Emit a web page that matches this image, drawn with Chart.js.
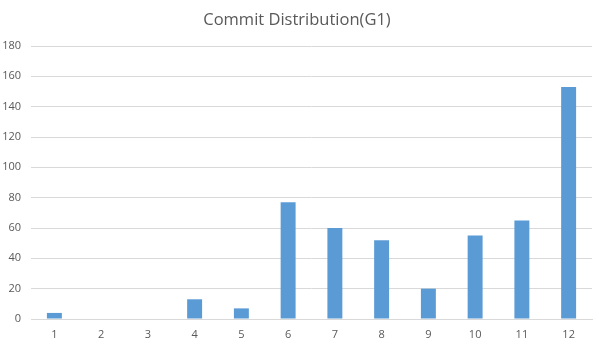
<!DOCTYPE html>
<html>
<head>
<meta charset="utf-8">
<script src="https://cdn.jsdelivr.net/npm/chart.js@4/dist/chart.umd.min.js"></script>
<style>
html,body{margin:0;padding:0;background:#fff;}
#wrap{width:599px;height:351px;position:relative;}
</style>
</head>
<body>
<div id="wrap"><canvas id="c" width="599" height="351"></canvas></div>
<script>
const categories = ["1","2","3","4","5","6","7","8","9","10","11","12"];
const commits = [4, 0, 0, 13, 7, 77, 60, 52, 20, 55, 65, 153];
const yTicks = [0, 20, 40, 60, 80, 100, 120, 140, 160, 180];
const chartTitle = "Commit Distribution(G1)";

const textColor = "#595959";
const gridColor = "#d9d9d9";
const fontFamily = "'Open Sans', 'Liberation Sans', sans-serif";

new Chart(document.getElementById("c"), {
  type: "bar",
  data: {
    labels: categories,
    datasets: [{
      label: "Commits",
      data: commits,
      backgroundColor: "#5b9bd5",
      borderWidth: 0,
      categoryPercentage: 1.0,
      barPercentage: 0.32
    }]
  },
  options: {
    responsive: false,
    animation: false,
    devicePixelRatio: 1,
    layout: { padding: { left: 2, right: 7, top: 0, bottom: 0 } },
    plugins: {
      legend: { display: false },
      tooltip: { enabled: false },
      title: {
        display: true,
        text: chartTitle,
        color: textColor,
        font: { family: fontFamily, size: 16.5, weight: "normal", lineHeight: 1.2 },
        padding: { top: 10, bottom: 16.2 }
      }
    },
    scales: {
      x: {
        grid: { display: false, drawTicks: false },
        border: { display: true, color: gridColor, width: 1 },
        ticks: { color: textColor, font: { family: fontFamily, size: 11 }, padding: 9, maxRotation: 0 },
        afterFit: (s) => { s.height = 32; }
      },
      y: {
        min: 0,
        max: 180,
        afterBuildTicks: (s) => { s.ticks = yTicks.map(v => ({ value: v })); },
        grid: { color: gridColor, drawTicks: false },
        border: { display: false },
        ticks: { color: textColor, font: { family: fontFamily, size: 11 }, padding: 10 },
        afterFit: (s) => { s.width = 29; }
      }
    }
  }
});
</script>
</body>
</html>
